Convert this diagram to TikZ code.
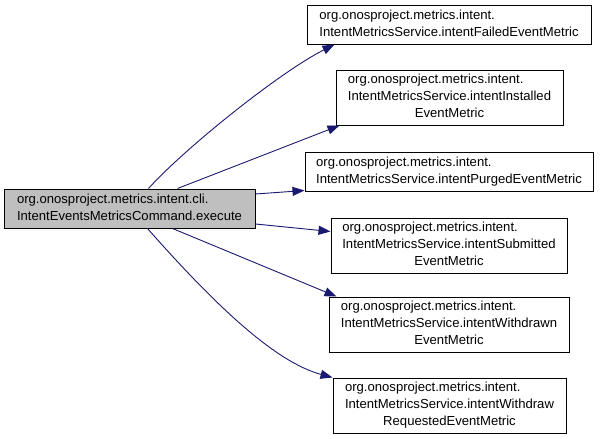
\documentclass[tikz,border=0pt]{standalone}
\usepackage{fontspec}
\setmainfont{Liberation Sans}
\usetikzlibrary{arrows.meta,calc}
\definecolor{edgeblue}{HTML}{191970}
\definecolor{nodegrey}{HTML}{BFBFBF}
\newcommand\twolines[2]{\begin{tabular}{@{}l@{}}#1\\#2\end{tabular}}
\newcommand\threelines[3]{\begin{tabular}{@{}l@{}}#1\\#2\\\multicolumn{1}{@{}c@{}}{#3}\end{tabular}}
\begin{document}
\begin{tikzpicture}[x=1pt,y=-1pt,
  box/.style={draw=black,line width=1pt,fill=white,inner sep=0pt,
    font=\fontsize{13.1}{17}\selectfont},
  edge/.style={draw=edgeblue,line width=0.9pt,
    -{Triangle[length=12pt,width=9pt,fill=edgeblue]}}]
\useasboundingbox (0,0) rectangle (600,439);
\node[box,fill=nodegrey,minimum width=251pt,minimum height=39pt] (L) at (129.5,208.5)
  {\twolines{org.onosproject.metrics.intent.cli.}{IntentEventsMetricsCommand.execute}};
\node[box,minimum width=284pt,minimum height=39pt] (B1) at (449,24.5)
  {\twolines{org.onosproject.metrics.intent.}{IntentMetricsService.intentFailedEventMetric}};
\node[box,minimum width=227pt,minimum height=55pt] (B2) at (449.5,97.5)
  {\threelines{org.onosproject.metrics.intent.}{IntentMetricsService.intentInstalled}{EventMetric}};
\node[box,minimum width=288pt,minimum height=39pt] (B3) at (449,171.5)
  {\twolines{org.onosproject.metrics.intent.}{IntentMetricsService.intentPurgedEventMetric}};
\node[box,minimum width=236pt,minimum height=55pt] (B4) at (449,245.5)
  {\threelines{org.onosproject.metrics.intent.}{IntentMetricsService.intentSubmitted}{EventMetric}};
\node[box,minimum width=240pt,minimum height=55pt] (B5) at (449,324.5)
  {\threelines{org.onosproject.metrics.intent.}{IntentMetricsService.intentWithdrawn}{EventMetric}};
\node[box,minimum width=233pt,minimum height=55pt] (B6) at (449.5,405.5)
  {\threelines{org.onosproject.metrics.intent.}{IntentMetricsService.intentWithdraw}{RequestedEventMetric}};
\draw[edge] ($(L.north west)+(145,0)$) .. controls (185,148) and (280,72) .. ($(B1.south west)+(28,0)$);
\draw[edge] ($(L.north west)+(174,0)$) -- ($(B2.south west)+(4,0)$);
\draw[edge] ($(L.east)+(0,-14.5)$) -- ($(B3.south west)+(0,-1)$);
\draw[edge] ($(L.east)+(0,15.5)$) -- ($(B4.north west)+(0,14)$);
\draw[edge] ($(L.south west)+(169,0)$) -- ($(B5.north west)+(8,0)$);
\draw[edge] ($(L.south west)+(144,0)$) .. controls (215,305) and (275,362) .. (B6.north west);
\end{tikzpicture}
\end{document}
